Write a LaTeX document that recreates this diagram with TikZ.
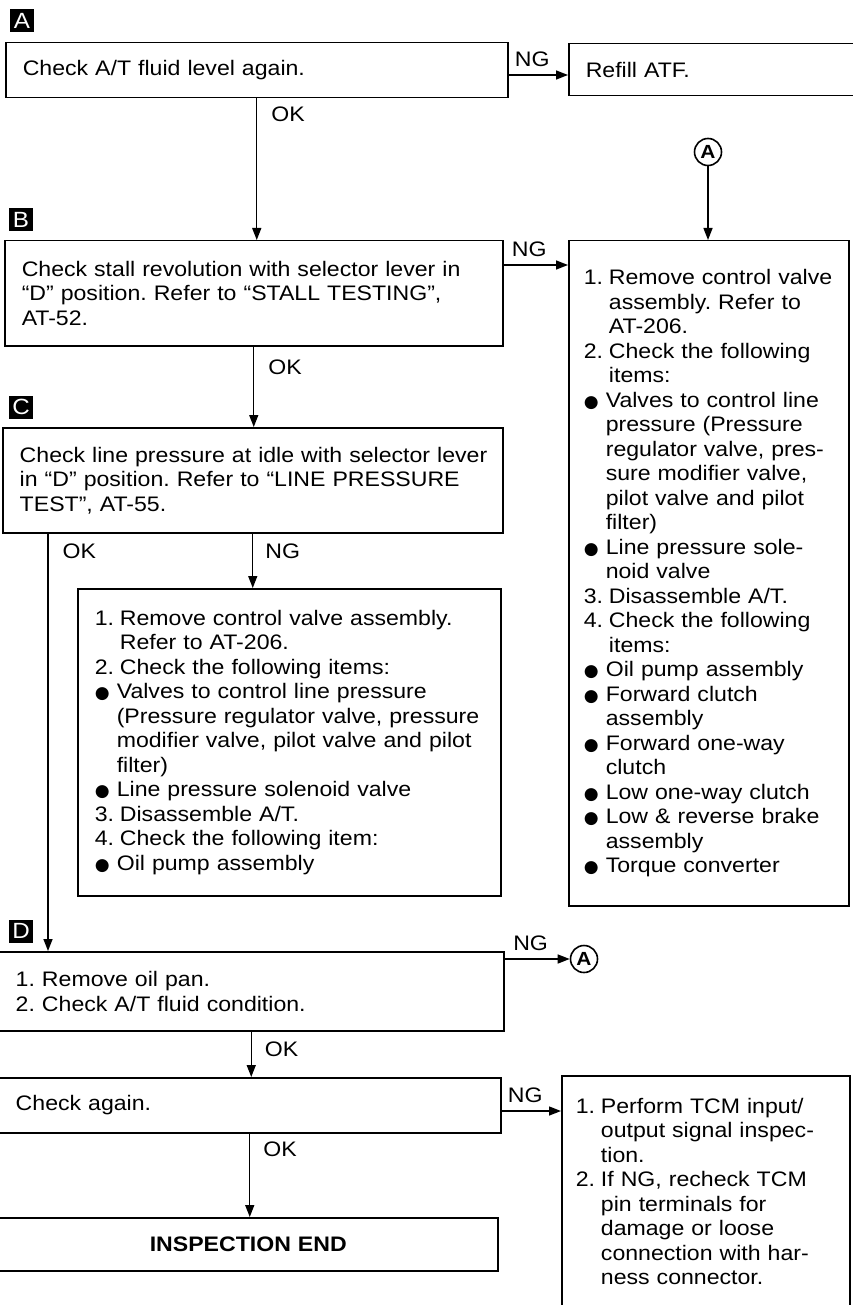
\documentclass[tikz,border=0pt]{standalone}
\usepackage{fontspec}
\setmainfont{Liberation Sans}[FakeStretch=1.1]
\newfontfamily\symfont{DejaVu Sans}
\usepackage{tikz}
\usetikzlibrary{arrows.meta, positioning, calc}
\frenchspacing
\newcommand{\boxfont}{\fontsize{21}{24.5}\selectfont}
\newcommand{\itemno}[1]{\makebox[1.2em][l]{#1}}
\newcommand{\contind}{\hspace*{1.2em}}
\newcommand{\bul}{\makebox[1.05em][l]{{\symfont\fontsize{17}{17}\selectfont ●}}}
\newcommand{\bulind}{\hspace*{1.05em}}
\tikzset{
  box/.style={rectangle, draw=black, line width=1.5pt, anchor=north west,
    inner xsep=17pt, inner ysep=0pt, align=left, font=\boxfont},
  badge/.style={rectangle, fill=black, text=white, minimum width=24pt,
    minimum height=23pt, inner sep=0pt, font=\fontsize{22}{22}\selectfont},
  conn/.style={circle, draw=black, line width=1.6pt, minimum size=27pt,
    inner sep=0pt, font=\fontsize{19}{19}\selectfont\bfseries},
  lbl/.style={inner sep=0pt, font=\boxfont},
  arrow/.style={-{Triangle[length=12pt, width=9pt]}, line width=1.4pt}
}
\begin{document}
\begin{tikzpicture}[x=1pt, y=-1pt]
  \useasboundingbox[fill=white] (0,0) rectangle (852,1305);

  \node[badge] (bA) at (22,21) {A};
  \node[box, text width=468pt, minimum height=55pt] (chkA) at (5,42) {Check A/T fluid level again.};
  \node[box, text width=258pt, minimum height=52pt] (refill) at (568,43) {Refill ATF.};
  \node[conn] (cA1) at (708,152) {A};

  \node[badge] (bB) at (21,220) {B};
  \node[box, text width=464pt, minimum height=105pt] (chkB) at (4,240)
    {\mbox{Check stall revolution with selector lever in}\\
     “D” position. Refer to “STALL TESTING”,\\
     AT-52.};
  \node[box, inner xsep=15pt, text width=250pt, minimum height=665pt] (remA) at (568,240)
    {\itemno{1.}Remove control valve\\
     \contind assembly. Refer to\\
     \contind AT-206.\\
     \itemno{2.}Check the following\\
     \contind items:\\
     \bul Valves to control line\\
     \bulind pressure (Pressure\\
     \bulind regulator valve, pres-\\
     \bulind sure modifier valve,\\
     \bulind pilot valve and pilot\\
     \bulind filter)\\
     \bul Line pressure sole-\\
     \bulind noid valve\\
     \itemno{3.}Disassemble A/T.\\
     \itemno{4.}Check the following\\
     \contind items:\\
     \bul Oil pump assembly\\
     \bul Forward clutch\\
     \bulind assembly\\
     \bul Forward one-way\\
     \bulind clutch\\
     \bul Low one-way clutch\\
     \bul Low \& reverse brake\\
     \bulind assembly\\
     \bul Torque converter};

  \node[badge] (bC) at (21,407) {C};
  \node[box, text width=466pt, minimum height=105pt] (chkC) at (2,427)
    {\mbox{Check line pressure at idle with selector lever}\\
     in “D” position. Refer to “LINE PRESSURE\\
     TEST”, AT-55.};
  \node[box, text width=389pt, minimum height=307pt] (remC) at (77,588)
    {\itemno{1.}Remove control valve assembly.\\
     \contind Refer to AT-206.\\
     \itemno{2.}Check the following items:\\
     \bul Valves to control line pressure\\
     \bulind (Pressure regulator valve, pressure\\
     \bulind modifier valve, pilot valve and pilot\\
     \bulind filter)\\
     \bul Line pressure solenoid valve\\
     \itemno{3.}Disassemble A/T.\\
     \itemno{4.}Check the following item:\\
     \bul Oil pump assembly};

  \node[badge] (bD) at (21,931) {D};
  \node[box, text width=471pt, minimum height=79pt] (chkD) at (-2,951)
    {1. Remove oil pan.\\
     2. Check A/T fluid condition.};
  \node[conn] (cA2) at (584,959) {A};
  \node[box, text width=468pt, minimum height=55pt] (chkE) at (-2,1077) {Check again.};
  \node[box, inner xsep=14pt, text width=260pt, minimum height=231pt] (tcm) at (561,1075)
    {\itemno{1.}Perform TCM input/\\
     \contind output signal inspec-\\
     \contind tion.\\
     \itemno{2.}If NG, recheck TCM\\
     \contind pin terminals for\\
     \contind damage or loose\\
     \contind connection with har-\\
     \contind ness connector.};
  \node[box, text width=465pt, minimum height=53pt, align=center] (done) at (-2,1217) {\bfseries INSPECTION END};

  \coordinate (ngA) at ($(chkA.north east)+(0,33)$);
  \coordinate (ngB) at ($(chkB.north east)+(0,25)$);
  \coordinate (okC) at ($(chkC.south west)+(46,0)$);
  \coordinate (ngD) at ($(chkD.north east)+(0,8)$);
  \coordinate (ngE) at ($(chkE.north east)+(0,34)$);

  \draw[arrow] (ngA) -- node[lbl, above=8pt, pos=0.4] {NG} (ngA -| refill.west);
  \draw[arrow] (chkA.south) -- node[lbl, below right=8pt and 14pt, pos=0] {OK} (chkA.south |- chkB.north);
  \draw[arrow] (cA1.south) -- (cA1.south |- remA.north);
  \draw[arrow] (ngB) -- node[lbl, above=8pt, pos=0.4] {NG} (ngB -| remA.west);
  \draw[arrow] (chkB.south) -- node[lbl, below right=13pt and 14pt, pos=0] {OK} (chkB.south |- chkC.north);
  \draw[arrow] (chkC.south) -- node[lbl, below right=10pt and 12pt, pos=0] {NG} (chkC.south |- remC.north);
  \draw[arrow] (okC) -- node[lbl, below right=10pt and 14pt, pos=0] {OK} (okC |- chkD.north);
  \draw[arrow] (ngD) -- node[lbl, above=8pt, pos=0.4] {NG} (cA2.west);
  \draw[arrow] (chkD.south) -- node[lbl, below right=10pt and 13pt, pos=0] {OK} (chkD.south |- chkE.north);
  \draw[arrow] (ngE) -- node[lbl, above=8pt, pos=0.4] {NG} (ngE -| tcm.west);
  \draw[arrow] (chkE.south) -- node[lbl, below right=8pt and 13pt, pos=0] {OK} (chkE.south |- done.north);
\end{tikzpicture}
\end{document}
